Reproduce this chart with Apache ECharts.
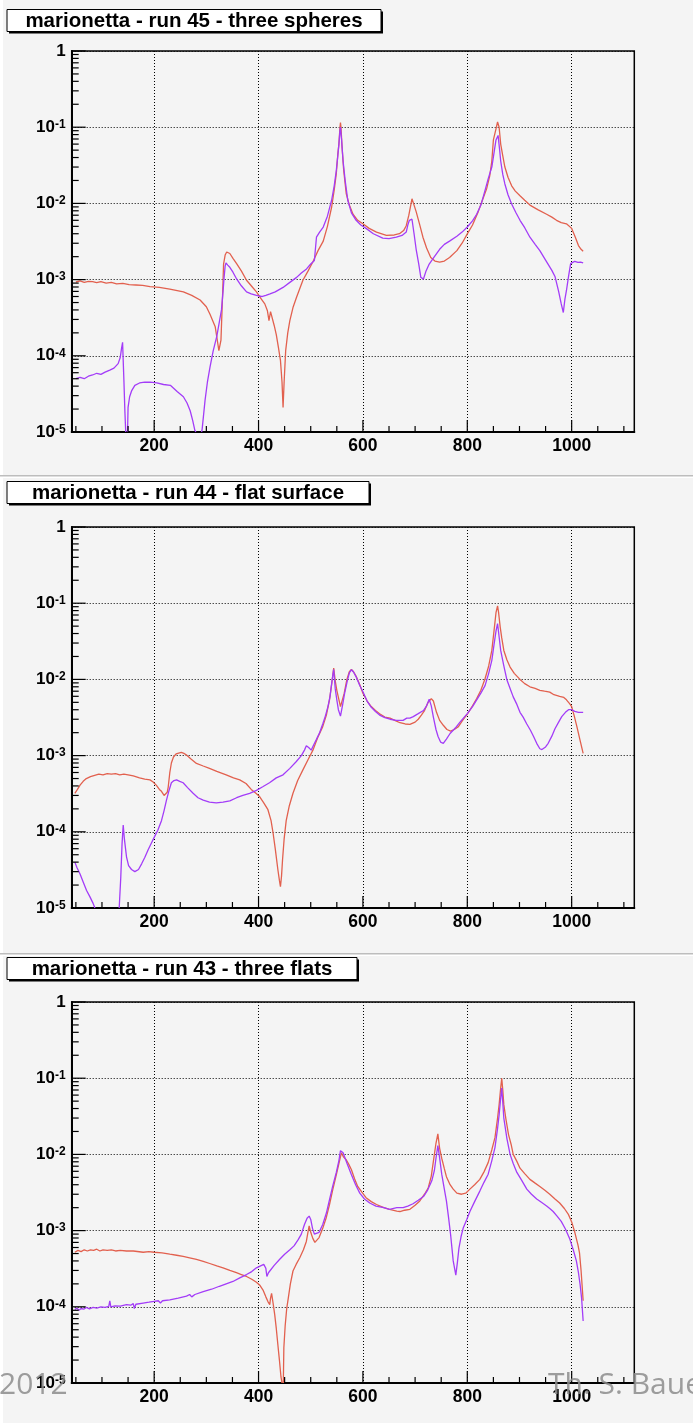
<!DOCTYPE html>
<html>
<head>
<meta charset="utf-8">
<script src="https://cdn.jsdelivr.net/npm/echarts@6/dist/echarts.min.js"></script>
<style>
  html, body { margin: 0; padding: 0; background: #ffffff; }
  #chart { width: 693px; height: 1423px; }
</style>
</head>
<body>
<div id="chart"></div>
<script>
// Transfer spectra of the marionetta runs, two channels per run (log scale).
// Stretches that fall below the bottom of the scale are left as gaps (null).
const runTitles = [
  'marionetta - run 45 - three spheres',
  'marionetta - run 44 - flat surface',
  'marionetta - run 43 - three flats'
];

const xTickLabels = [200, 400, 600, 800, 1000];
const xMinorTicks = [50, 100, 150, 250, 300, 350, 450, 500, 550, 650, 700, 750, 850, 900, 950, 1050, 1100];
const yDecades = [1e-5, 1e-4, 1e-3, 1e-2, 1e-1, 1];

// run 45 - three spheres
const run45Red = [
  [50, 9.3e-4], [58, 9.6e-4], [66, 9.2e-4], [74, 9.5e-4], [82, 9.4e-4], [90, 9.1e-4], [98, 9.4e-4],
  [108, 9.0e-4], [118, 9.2e-4], [128, 8.8e-4], [140, 8.9e-4], [152, 8.6e-4], [165, 8.5e-4], [178, 8.4e-4],
  [192, 8.1e-4], [210, 7.9e-4], [230, 7.5e-4], [256, 6.9e-4], [272, 6.2e-4], [288, 5.4e-4], [300, 4.4e-4],
  [307, 3.5e-4], [313, 2.8e-4], [317, 2.4e-4], [321, 1.6e-4], [324, 1.17e-4], [328, 1.6e-4], [331, 6e-4],
  [333, 1.6e-3], [336, 2.1e-3], [339, 2.3e-3], [345, 2.2e-3], [351, 1.9e-3], [358, 1.62e-3], [367, 1.3e-3],
  [377, 9.8e-4], [386, 8.3e-4], [396, 6.9e-4], [404, 5.7e-4], [412, 4.8e-4], [417, 3.9e-4], [420, 2.9e-4],
  [423, 3.8e-4], [425, 3.7e-4], [430, 2.5e-4], [434, 1.9e-4], [438, 1.3e-4], [442, 8.7e-5], [445, 4.5e-5],
  [447, 2.1e-5], [449, 4.5e-5], [452, 1.17e-4], [456, 2.0e-4], [460, 2.9e-4], [466, 4.3e-4], [473, 5.9e-4],
  [485, 9.8e-4], [495, 1.3e-3], [504, 1.7e-3], [514, 2.4e-3], [524, 3.2e-3], [532, 5.0e-3], [540, 8.9e-3],
  [545, 1.5e-2], [549, 2.45e-2], [552, 4.5e-2], [554, 6.0e-2], [556, 1.0e-1], [557, 1.15e-1], [558, 1.0e-1],
  [560, 5.5e-2], [563, 2.8e-2], [568, 1.35e-2], [574, 9.5e-3], [581, 7.2e-3], [590, 6.0e-3], [600, 5.4e-3],
  [612, 4.7e-3], [626, 4.2e-3], [645, 3.8e-3], [660, 3.85e-3], [670, 4.0e-3], [678, 4.4e-3], [683, 5.1e-3],
  [688, 7.0e-3], [694, 1.15e-2], [698, 9.5e-3], [702, 7.8e-3], [708, 5.5e-3], [715, 3.6e-3], [722, 2.6e-3],
  [730, 1.95e-3], [738, 1.75e-3], [747, 1.7e-3], [756, 1.75e-3], [766, 1.95e-3], [780, 2.4e-3], [790, 3.0e-3],
  [800, 3.98e-3], [810, 5.2e-3], [821, 7.8e-3], [830, 1.15e-2], [837, 1.55e-2], [843, 2.3e-2], [847, 3.6e-2],
  [850, 6.8e-2], [855, 9.5e-2], [858, 1.17e-1], [861, 1.0e-1], [864, 6.0e-2], [868, 4.2e-2], [872, 3.0e-2],
  [878, 2.2e-2], [885, 1.7e-2], [892, 1.45e-2], [901, 1.26e-2], [910, 1.1e-2], [920, 9.5e-3], [935, 8.3e-3],
  [952, 7.2e-3], [962, 6.6e-3], [971, 6.0e-3], [980, 5.6e-3], [990, 5.4e-3], [1000, 4.7e-3], [1007, 3.6e-3],
  [1013, 2.8e-3], [1018, 2.5e-3], [1022, 2.35e-3]
];
const run45Violet = [
  [50, 5.0e-5], [58, 5.2e-5], [66, 5.0e-5], [74, 5.4e-5], [82, 5.6e-5], [90, 5.9e-5], [98, 5.7e-5],
  [106, 6.1e-5], [115, 6.5e-5], [123, 6.9e-5], [131, 7.9e-5], [135, 9.5e-5], [137.5, 1.25e-4], [139.5, 1.5e-4],
  [142, 4.8e-5], [144, 1.8e-5], [145.5, 1.0e-5], [147, null], [149, 1.0e-5], [150, 2.1e-5], [153, 2.9e-5],
  [157, 3.5e-5], [163, 4.1e-5], [172, 4.4e-5], [182, 4.5e-5], [192, 4.5e-5], [205, 4.4e-5], [218, 4.2e-5],
  [231, 4.1e-5], [244, 3.4e-5], [256, 2.9e-5], [263, 2.4e-5], [269, 1.9e-5], [274, 1.4e-5], [278, 1.05e-5],
  [280, 1.0e-5], [285, null], [291, 1.0e-5], [292, 1.1e-5], [297.5, 2.6e-5], [302, 4.5e-5], [307, 7.1e-5],
  [313, 1.15e-4], [320, 1.8e-4], [325, 2.8e-4], [329, 4.0e-4], [332, 7e-4], [334, 1.07e-3], [336, 1.5e-3],
  [337.6, 1.66e-3], [341, 1.55e-3], [345, 1.45e-3], [351, 1.25e-3], [358, 1.02e-3], [367, 8.3e-4], [377, 6.9e-4],
  [386, 6.5e-4], [396, 6.2e-4], [406, 6.0e-4], [414, 6.2e-4], [422, 6.5e-4], [432, 6.9e-4], [447, 7.9e-4],
  [460, 9.2e-4], [473, 1.07e-3], [482, 1.22e-3], [492, 1.38e-3], [500, 1.6e-3], [507, 1.78e-3], [511, 3.6e-3],
  [517, 4.2e-3], [524, 4.9e-3], [532, 6.8e-3], [540, 1.1e-2], [545, 1.7e-2], [549, 2.7e-2], [552, 4.3e-2],
  [554, 6.0e-2], [556, 9.0e-2], [557, 1.0e-1], [559, 7.0e-2], [562, 3.6e-2], [566, 2.0e-2], [571, 1.1e-2],
  [578, 7.5e-3], [587, 6.0e-3], [596, 5.2e-3], [606, 4.7e-3], [620, 4.0e-3], [638, 3.5e-3], [650, 3.45e-3],
  [664, 3.6e-3], [675, 3.8e-3], [683, 4.2e-3], [686, 5.2e-3], [689, 6.0e-3], [694, 6.2e-3], [698, 4.0e-3],
  [702, 2.5e-3], [707, 1.6e-3], [711, 1.07e-3], [716, 1.02e-3], [721, 1.3e-3], [727, 1.6e-3], [737, 2.0e-3],
  [747, 2.5e-3], [756, 2.9e-3], [766, 3.2e-3], [780, 3.7e-3], [790, 4.2e-3], [800, 4.9e-3], [810, 5.9e-3],
  [818, 7.2e-3], [826, 9.5e-3], [834, 1.48e-2], [840, 2.1e-2], [847, 3.0e-2], [852, 5.0e-2], [855, 6.8e-2],
  [859, 7.8e-2], [862, 5.0e-2], [864, 3.6e-2], [868, 2.4e-2], [872, 1.8e-2], [878, 1.3e-2], [885, 9.8e-3],
  [893, 7.6e-3], [901, 6.0e-3], [910, 4.8e-3], [920, 3.6e-3], [930, 2.9e-3], [939, 2.4e-3], [950, 1.8e-3],
  [962, 1.32e-3], [968, 1.1e-3], [975, 7.0e-4], [980, 4.8e-4], [984, 3.7e-4], [987, 5.5e-4], [990, 7.2e-4],
  [994, 1.1e-3], [998, 1.62e-3], [1002, 1.68e-3], [1006, 1.74e-3], [1012, 1.68e-3], [1017, 1.7e-3], [1022, 1.66e-3]
];

// run 44 - flat surface
const run44Red = [
  [48, 3.2e-4], [53, 3.6e-4], [58, 4.1e-4], [64, 4.6e-4], [70, 5.0e-4], [78, 5.3e-4], [86, 5.5e-4],
  [94, 5.7e-4], [102, 5.6e-4], [110, 5.8e-4], [118, 5.7e-4], [126, 5.8e-4], [134, 5.6e-4], [142, 5.7e-4],
  [150, 5.6e-4], [160, 5.4e-4], [172, 5.1e-4], [182, 4.9e-4], [192, 4.8e-4], [198, 4.5e-4], [204, 4.1e-4],
  [210, 3.6e-4], [214, 3.4e-4], [219, 3.0e-4], [222, 2.9e-4], [225, 3.3e-4], [227, 3.9e-4], [230, 6.0e-4],
  [233, 8.0e-4], [237, 9.6e-4], [242, 1.05e-3], [247, 1.08e-3], [252, 1.1e-3], [257, 1.07e-3], [262, 1.02e-3],
  [270, 9.1e-4], [281, 7.9e-4], [294, 7.3e-4], [306, 6.8e-4], [320, 6.2e-4], [338, 5.6e-4], [352, 5.1e-4],
  [364, 4.8e-4], [376, 4.3e-4], [386, 3.6e-4], [395, 3.2e-4], [402, 2.9e-4], [410, 2.4e-4], [418, 1.95e-4],
  [424, 1.4e-4], [428, 9.5e-5], [432, 6.0e-5], [437, 3.2e-5], [440, 2.3e-5], [442, 1.9e-5], [444, 2.6e-5],
  [446, 4.3e-5], [449, 8.0e-5], [453, 1.4e-4], [459, 2.2e-4], [466, 3.2e-4], [475, 4.7e-4], [485, 6.5e-4],
  [495, 8.9e-4], [504, 1.17e-3], [513, 1.7e-3], [523, 2.4e-3], [530, 3.4e-3], [536, 5.4e-3], [540, 8.5e-3],
  [544, 1.41e-2], [547, 9.5e-3], [550, 7.2e-3], [553, 5.8e-3], [557, 4.4e-3], [560, 4.2e-3], [564, 6.5e-3],
  [569, 9.8e-3], [574, 1.26e-2], [578, 1.35e-2], [582, 1.26e-2], [587, 1.1e-2], [594, 8.5e-3], [600, 6.6e-3],
  [608, 5.2e-3], [616, 4.4e-3], [624, 3.9e-3], [632, 3.55e-3], [642, 3.2e-3], [652, 3.1e-3], [661, 2.9e-3],
  [671, 2.7e-3], [681, 2.6e-3], [690, 2.57e-3], [700, 2.75e-3], [706, 3.0e-3], [712, 3.4e-3], [718, 3.9e-3],
  [725, 5.0e-3], [731, 5.6e-3], [735, 5.2e-3], [741, 3.7e-3], [747, 2.9e-3], [754, 2.5e-3], [761, 2.2e-3],
  [768, 2.1e-3], [775, 2.2e-3], [783, 2.4e-3], [791, 2.9e-3], [800, 3.5e-3], [810, 4.5e-3], [818, 5.6e-3],
  [826, 7.2e-3], [834, 1.02e-2], [841, 1.5e-2], [847, 2.4e-2], [851, 4.2e-2], [855, 7.5e-2], [858, 9.2e-2],
  [860, 7.5e-2], [863, 4.9e-2], [866, 3.5e-2], [870, 2.4e-2], [876, 1.8e-2], [882, 1.45e-2], [890, 1.2e-2],
  [901, 1.0e-2], [910, 8.8e-3], [920, 8.0e-3], [930, 7.6e-3], [939, 7.2e-3], [948, 7.0e-3], [958, 6.8e-3],
  [966, 6.3e-3], [977, 6.0e-3], [985, 5.8e-3], [990, 5.4e-3], [996, 4.8e-3], [1000, 4.4e-3], [1005, 3.3e-3],
  [1010, 2.4e-3], [1016, 1.6e-3], [1022, 1.07e-3]
];
const run44Violet = [
  [48, 4.0e-5], [52, 3.4e-5], [58, 2.8e-5], [64, 2.2e-5], [70.5, 1.7e-5], [77, 1.4e-5], [83, 1.15e-5],
  [86.5, 1.0e-5], [110, null], [133, 1.0e-5], [136, 2.5e-5], [138.5, 7e-5],
  [140.7, 1.23e-4], [143, 8e-5], [147, 4.7e-5], [151, 3.6e-5], [156.6, 3.2e-5], [163, 3.0e-5], [170, 3.2e-5],
  [176, 3.8e-5], [182, 4.6e-5], [188.5, 5.8e-5], [195, 7.2e-5], [201, 8.7e-5], [207, 1.05e-4], [214, 1.4e-4],
  [219, 1.9e-4], [223.6, 2.6e-4], [228, 3.4e-4], [233, 4.4e-4], [238, 4.7e-4], [243, 4.8e-4], [249, 4.6e-4],
  [255.5, 4.4e-4], [264, 3.8e-4], [274.6, 3.2e-4], [284, 2.8e-4], [294, 2.6e-4], [306, 2.45e-4], [319, 2.4e-4],
  [332, 2.45e-4], [345, 2.55e-4], [358, 2.8e-4], [370, 3.0e-4], [383, 3.2e-4], [396, 3.5e-4], [408, 3.9e-4],
  [421, 4.4e-4], [434, 5.1e-4], [447, 5.6e-4], [460, 6.8e-4], [472, 8.3e-4], [482, 1.0e-3], [488, 1.18e-3],
  [491.6, 1.35e-3], [496, 1.28e-3], [501, 1.18e-3], [506, 1.4e-3], [510.7, 1.62e-3], [517, 2.0e-3], [523, 2.6e-3],
  [528, 3.3e-3], [533, 4.4e-3], [537, 6.0e-3], [539.4, 8.1e-3], [542, 1.1e-2], [544, 1.35e-2], [547, 7.5e-3],
  [550, 5.4e-3], [553, 4.0e-3], [557, 3.3e-3], [561, 4.6e-3], [565, 6.6e-3], [570, 9.5e-3], [574, 1.22e-2],
  [578, 1.34e-2], [582, 1.25e-2], [587, 1.08e-2], [594, 8.3e-3], [600, 6.9e-3], [608, 5.2e-3], [616, 4.3e-3],
  [624, 3.8e-3], [632, 3.4e-3], [642, 3.15e-3], [652, 3.0e-3], [664, 2.9e-3], [677, 2.9e-3], [684, 3.1e-3],
  [690, 3.1e-3], [696.5, 3.25e-3], [706, 3.55e-3], [716, 3.9e-3], [722, 4.5e-3], [727, 5.5e-3], [731, 4.5e-3],
  [735, 3.2e-3], [740, 2.2e-3], [744, 1.78e-3], [749, 1.5e-3], [754, 1.45e-3], [760, 1.65e-3], [767, 1.95e-3],
  [777, 2.3e-3], [786, 2.75e-3], [800, 3.55e-3], [810, 4.4e-3], [818, 5.4e-3], [826, 6.6e-3], [834, 8.3e-3],
  [841, 1.2e-2], [847, 1.78e-2], [851, 2.8e-2], [855, 4.3e-2], [858, 5.4e-2], [861, 3.6e-2], [864, 2.4e-2],
  [870, 1.5e-2], [876, 9.8e-3], [882, 7.6e-3], [888, 5.9e-3], [895, 4.7e-3], [901, 3.7e-3], [907, 3.2e-3],
  [914, 2.6e-3], [921, 2.15e-3], [927, 1.78e-3], [933, 1.45e-3], [939, 1.23e-3], [943, 1.2e-3], [946, 1.2e-3],
  [950, 1.3e-3], [955, 1.45e-3], [962, 1.8e-3], [968, 2.25e-3], [975, 2.75e-3], [981, 3.25e-3], [988, 3.7e-3],
  [994, 4.0e-3], [1000, 4.0e-3], [1006, 3.8e-3], [1013, 3.7e-3], [1022, 3.7e-3]
];

// run 43 - three flats
const run43Red = [
  [48, 5.2e-4], [54, 5.5e-4], [60, 5.3e-4], [66, 5.6e-4], [72, 5.4e-4], [78, 5.6e-4], [84, 5.5e-4],
  [90, 5.7e-4], [96, 5.4e-4], [102, 5.6e-4], [110, 5.5e-4], [118, 5.6e-4], [126, 5.4e-4], [135, 5.5e-4],
  [147, 5.4e-4], [160, 5.4e-4], [179, 5.2e-4], [190, 5.3e-4], [200, 5.2e-4], [215, 5.1e-4], [230, 4.9e-4],
  [243, 4.75e-4], [255.5, 4.6e-4], [268, 4.4e-4], [281, 4.2e-4], [294, 3.95e-4], [306.5, 3.7e-4], [320, 3.45e-4],
  [332, 3.25e-4], [345, 3.0e-4], [357.6, 2.8e-4], [367, 2.65e-4], [377, 2.5e-4], [387, 2.3e-4], [396, 2.1e-4],
  [403, 1.9e-4], [408.6, 1.66e-4], [414, 1.35e-4], [418, 1.17e-4], [421.5, 1.07e-4], [423, 1.3e-4], [425, 1.5e-4],
  [428, 1.1e-4], [431, 7.9e-5], [434, 5.2e-5], [437, 3.2e-5], [440, 2.0e-5], [443, 1.2e-5], [445, 1.0e-5],
  [446, null], [447.5, 1.0e-5], [448.5, 2.9e-5], [451, 5.6e-5], [454, 9.5e-5], [457, 1.3e-4], [461, 2.0e-4],
  [466, 2.95e-4], [472, 3.6e-4], [479, 4.4e-4], [486, 5.6e-4], [491.6, 7.2e-4], [495, 9.8e-4], [497, 1.15e-3],
  [500, 9.5e-4], [504, 7.9e-4], [508, 7.0e-4], [511, 6.9e-4], [516, 8.1e-4], [523, 1.07e-3], [530, 1.5e-3],
  [536, 2.2e-3], [542, 3.4e-3], [549, 5.4e-3], [554, 7.6e-3], [558.7, 1.05e-2], [563, 9.2e-3], [568, 8.5e-3],
  [573, 7.4e-3], [578, 6.3e-3], [584, 4.8e-3], [590, 3.8e-3], [598, 3.2e-3], [606, 2.7e-3], [616, 2.4e-3],
  [626, 2.2e-3], [640, 2.0e-3], [651, 1.9e-3], [665, 1.8e-3], [671, 1.78e-3], [680, 1.85e-3], [690, 1.9e-3],
  [700, 2.15e-3], [709, 2.45e-3], [718, 3.0e-3], [725, 3.6e-3], [731, 5.2e-3], [735, 8.1e-3], [740, 1.4e-2],
  [743.6, 1.86e-2], [747, 1.2e-2], [751, 8.9e-3], [756, 6.5e-3], [760, 5.1e-3], [767, 4.0e-3], [773, 3.5e-3],
  [780, 3.1e-3], [789, 3.0e-3], [797, 3.1e-3], [805, 3.5e-3], [814, 4.0e-3], [824, 4.7e-3], [832, 5.9e-3],
  [840, 7.8e-3], [847, 1.15e-2], [853, 1.66e-2], [858, 3.0e-2], [861, 4.5e-2], [864, 7.5e-2], [866, 1.0e-1],
  [868, 7.0e-2], [870, 4.5e-2], [874, 2.9e-2], [879, 1.82e-2], [884, 1.35e-2], [888, 1.0e-2], [895, 8.1e-3],
  [901, 6.6e-3], [910, 5.6e-3], [920, 4.7e-3], [930, 4.2e-3], [939, 3.8e-3], [948, 3.4e-3], [958, 3.0e-3],
  [968, 2.6e-3], [977, 2.3e-3], [986, 1.95e-3], [994, 1.62e-3], [1000, 1.3e-3], [1006, 9.5e-4], [1012, 6.5e-4],
  [1015, 5.1e-4], [1018, 3.0e-4], [1020, 1.9e-4], [1022, 1.2e-4]
];
const run43Violet = [
  [48, 9.2e-5], [52, 9.6e-5], [56, 9.0e-5], [60, 9.5e-5], [65, 9.3e-5], [70, 9.8e-5], [76, 9.4e-5],
  [83, 9.8e-5], [90, 9.6e-5], [98, 1.0e-4], [106, 9.8e-5], [113, 1.01e-4], [115, 1.2e-4], [117, 1.0e-4],
  [125, 1.03e-4], [135, 1.02e-4], [147, 1.07e-4], [155, 1.05e-4], [160, 1.1e-4], [162, 9.5e-5], [165, 1.08e-4],
  [179, 1.12e-4], [190, 1.15e-4], [200, 1.18e-4], [202, 1.25e-4], [208, 1.2e-4], [212, 1.12e-4], [216, 1.2e-4],
  [230, 1.23e-4], [246, 1.3e-4], [262, 1.38e-4], [268, 1.45e-4], [272, 1.35e-4], [278, 1.45e-4], [294, 1.58e-4],
  [310, 1.7e-4], [325, 1.86e-4], [338, 2.0e-4], [351, 2.15e-4], [364, 2.4e-4], [377, 2.65e-4], [387, 2.9e-4],
  [396, 3.25e-4], [404, 3.45e-4], [410, 3.6e-4], [412, 3.75e-4], [414, 3.2e-4], [416, 2.5e-4], [419, 2.8e-4],
  [421.5, 2.95e-4], [430, 3.5e-4], [440.6, 4.2e-4], [450, 4.9e-4], [460, 5.6e-4], [468, 6.3e-4], [476, 7.6e-4],
  [482, 9.0e-4], [488, 1.2e-3], [493, 1.45e-3], [497, 1.55e-3], [500, 1.4e-3], [503.4, 1.07e-3], [507, 9.0e-4],
  [510, 8.7e-4], [516, 9.5e-4], [523, 1.2e-3], [530, 1.7e-3], [536, 2.55e-3], [542, 3.8e-3], [549, 5.8e-3],
  [554, 8.3e-3], [557, 1.12e-2], [559.5, 1.16e-2], [562, 1.05e-2], [565, 1.0e-2], [570, 7.5e-3], [578, 5.4e-3],
  [586, 4.0e-3], [594, 3.1e-3], [603, 2.6e-3], [613, 2.3e-3], [625, 2.1e-3], [640, 2.0e-3], [651, 1.9e-3],
  [665, 2.0e-3], [677, 2.0e-3], [686, 2.1e-3], [696, 2.25e-3], [706, 2.5e-3], [716, 2.8e-3], [724, 3.4e-3],
  [732, 4.5e-3], [737, 6.2e-3], [740, 8.9e-3], [743.6, 1.3e-2], [747, 9.0e-3], [751, 5.5e-3], [756, 3.5e-3],
  [760, 2.45e-3], [764, 1.5e-3], [768, 8.9e-4], [773, 4.0e-4], [778, 2.6e-4], [781, 3.8e-4], [784, 5.9e-4],
  [788, 8.3e-4], [792, 1.07e-3], [799, 1.4e-3], [805, 1.78e-3], [814, 2.4e-3], [824, 3.3e-3], [832, 4.3e-3],
  [840, 5.5e-3], [847, 8.3e-3], [853, 1.23e-2], [858, 2.2e-2], [861, 3.3e-2], [864, 5.5e-2], [866, 7.4e-2],
  [868, 4.8e-2], [870, 3.0e-2], [876, 1.6e-2], [882, 1.0e-2], [888, 7.6e-3], [895, 5.8e-3], [904, 4.6e-3],
  [914, 3.5e-3], [923, 3.0e-3], [933, 2.6e-3], [942, 2.35e-3], [952, 2.1e-3], [958, 1.95e-3], [964.5, 1.78e-3],
  [972, 1.55e-3], [980, 1.32e-3], [988, 1.05e-3], [996, 7.9e-4], [1003, 5.6e-4], [1009, 4.0e-4], [1013, 2.8e-4],
  [1016, 2.0e-4], [1019, 1.3e-4], [1022, 6.5e-5]
];

const panels = [
  { title: runTitles[0], red: run45Red, violet: run45Violet },
  { title: runTitles[1], red: run44Red, violet: run44Violet },
  { title: runTitles[2], red: run43Red, violet: run43Violet }
];

// ---- layout / styling ----
const FONT = 'Liberation Sans, Arial, Helvetica, sans-serif';
const RED = '#e2604e';
const VIOLET = '#a33cf8';
const PAD_TOPS = [0, 478, 956];
const PAD_BOTTOMS = [475, 953, 1423];
const FRAME_TOPS = [51, 527, 1002];
const FRAME_LEFT = 71.7;
const FRAME_W = 562.6;
const FRAME_H = 381;
const X_MIN = 42, X_MAX = 1120;
const Y_MIN = 1e-5, Y_MAX = 1;
const TITLE_BOX = [
  { y: 9.5, w: 374 },
  { y: 481.5, w: 362 },
  { y: 957.5, w: 350 }
];

// minor log ticks 2..9 within each decade
const yMinorTicks = [];
for (let d = 0; d < yDecades.length - 1; d++) {
  for (let m = 2; m <= 9; m++) yMinorTicks.push(+(m * yDecades[d]).toPrecision(3));
}

function decadeLabel(v) {
  const e = Math.round(Math.log10(v));
  return e === 0 ? '{b|1}' : '{b|10}{s|' + e + '}';
}

const grids = [], xAxes = [], yAxes = [], series = [], graphics = [];

panels.forEach((p, i) => {
  grids.push({
    left: FRAME_LEFT, top: FRAME_TOPS[i], width: FRAME_W, height: FRAME_H,
    show: true, borderColor: '#000', borderWidth: 1.5, backgroundColor: 'transparent'
  });
  xAxes.push({
    type: 'value', gridIndex: i, position: 'bottom', min: X_MIN, max: X_MAX,
    axisLine: { show: true, onZero: false, lineStyle: { color: '#000', width: 2 } },
    axisTick: { show: false, customValues: xTickLabels },
    axisLabel: {
      show: true, customValues: xTickLabels, margin: 5, color: '#000',
      fontFamily: FONT, fontWeight: 'bold', fontSize: 17.5,
      formatter: v => String(v)
    },
    splitLine: { show: true, lineStyle: { color: '#000', width: 1, type: [1, 2] } }
  });
  yAxes.push({
    type: 'log', logBase: 10, gridIndex: i, position: 'left', min: Y_MIN, max: Y_MAX,
    axisLine: { show: true, onZero: false, lineStyle: { color: '#000', width: 2 } },
    axisTick: { show: false },
    axisLabel: {
      show: true, margin: 6, color: '#000', formatter: decadeLabel,
      rich: {
        b: { fontFamily: FONT, fontWeight: 'bold', fontSize: 17, lineHeight: 17, verticalAlign: 'bottom', color: '#000' },
        s: { fontFamily: FONT, fontWeight: 'bold', fontSize: 12, lineHeight: 12, padding: [0, 0, 7, 0], verticalAlign: 'top', color: '#000' }
      }
    },
    splitLine: { show: true, lineStyle: { color: '#000', width: 1, type: [1, 2] } }
  });

  series.push({
    type: 'line', name: p.title + ' red', xAxisIndex: i, yAxisIndex: i, data: p.red,
    showSymbol: false, symbol: 'none', clip: true, connectNulls: false, z: 3,
    lineStyle: { color: RED, width: 1.3 }, emphasis: { disabled: true }
  });
  series.push({
    type: 'line', name: p.title + ' violet', xAxisIndex: i, yAxisIndex: i, data: p.violet,
    showSymbol: false, symbol: 'none', clip: true, connectNulls: false, z: 4,
    lineStyle: { color: VIOLET, width: 1.3 }, emphasis: { disabled: true }
  });

  // canvas pad
  graphics.push({
    type: 'rect', z: -10, silent: true,
    shape: { x: 3, y: PAD_TOPS[i], width: 690, height: PAD_BOTTOMS[i] - PAD_TOPS[i] },
    style: { fill: '#f4f4f4' }
  });
  if (i < 2) {
    graphics.push({
      type: 'rect', z: -10, silent: true,
      shape: { x: 0, y: PAD_BOTTOMS[i], width: 693, height: 1.6 },
      style: { fill: '#bdbdbd' }
    });
  }
  // title box with drop shadow
  const tb = TITLE_BOX[i];
  graphics.push({
    type: 'rect', z: 10, silent: true,
    shape: { x: 9, y: tb.y + 2, width: tb.w, height: 22 },
    style: { fill: '#000' }
  });
  graphics.push({
    type: 'rect', z: 11, silent: true,
    shape: { x: 7, y: tb.y, width: tb.w, height: 22 },
    style: { fill: '#ffffff', stroke: '#000', lineWidth: 1 }
  });
  graphics.push({
    type: 'text', z: 12, silent: true,
    x: 7 + tb.w / 2, y: tb.y + 11.5,
    style: {
      text: p.title, fill: '#000', font: 'bold 20.5px ' + FONT,
      textAlign: 'center', textVerticalAlign: 'middle'
    }
  });
});

// footer overlay text
graphics.push({
  type: 'text', z: 50, silent: true, x: -1, y: 1400,
  style: { text: '2012', fill: 'rgba(140,140,140,0.85)', font: '30px "Open Sans", "Noto Sans", sans-serif', textVerticalAlign: 'bottom' }
});
graphics.push({
  type: 'text', z: 50, silent: true, x: 548, y: 1400,
  style: { text: 'Th. S. Bauer', fill: 'rgba(140,140,140,0.85)', font: '30px "Open Sans", "Noto Sans", sans-serif', textVerticalAlign: 'bottom' }
});

const chart = echarts.init(document.getElementById('chart'), null, { renderer: 'canvas', width: 693, height: 1423 });
try {
  chart.setOption({
    backgroundColor: '#ffffff',
    animation: false,
    grid: grids,
    xAxis: xAxes,
    yAxis: yAxes,
    series: series,
    graphic: graphics
  });
} catch (e) {
  console.error(e);
}

// inward tick marks along the bottom and left frame edges, placed with the axes' own scales
const tickEls = [];
function addTick(i, value, dir, len) {
  let pt = null;
  try {
    pt = dir === 'x'
      ? chart.convertToPixel({ gridIndex: i }, [value, Y_MIN])
      : chart.convertToPixel({ gridIndex: i }, [X_MIN, value]);
  } catch (e) { pt = null; }
  if (!pt || !isFinite(pt[0]) || !isFinite(pt[1])) return;
  tickEls.push({
    type: 'line', z: 20, silent: true,
    shape: dir === 'x'
      ? { x1: pt[0], y1: pt[1], x2: pt[0], y2: pt[1] - len }
      : { x1: pt[0], y1: pt[1], x2: pt[0] + len, y2: pt[1] },
    style: { stroke: '#000', lineWidth: 1.2 }
  });
}
panels.forEach((p, i) => {
  xTickLabels.forEach(v => addTick(i, v, 'x', 12));
  xMinorTicks.forEach(v => addTick(i, v, 'x', 6));
  yDecades.forEach(v => addTick(i, v, 'y', 14));
  yMinorTicks.forEach(v => addTick(i, v, 'y', 7));
});
try {
  chart.setOption({ graphic: graphics.concat(tickEls) });
} catch (e) {
  console.error(e);
}
</script>
</body>
</html>
